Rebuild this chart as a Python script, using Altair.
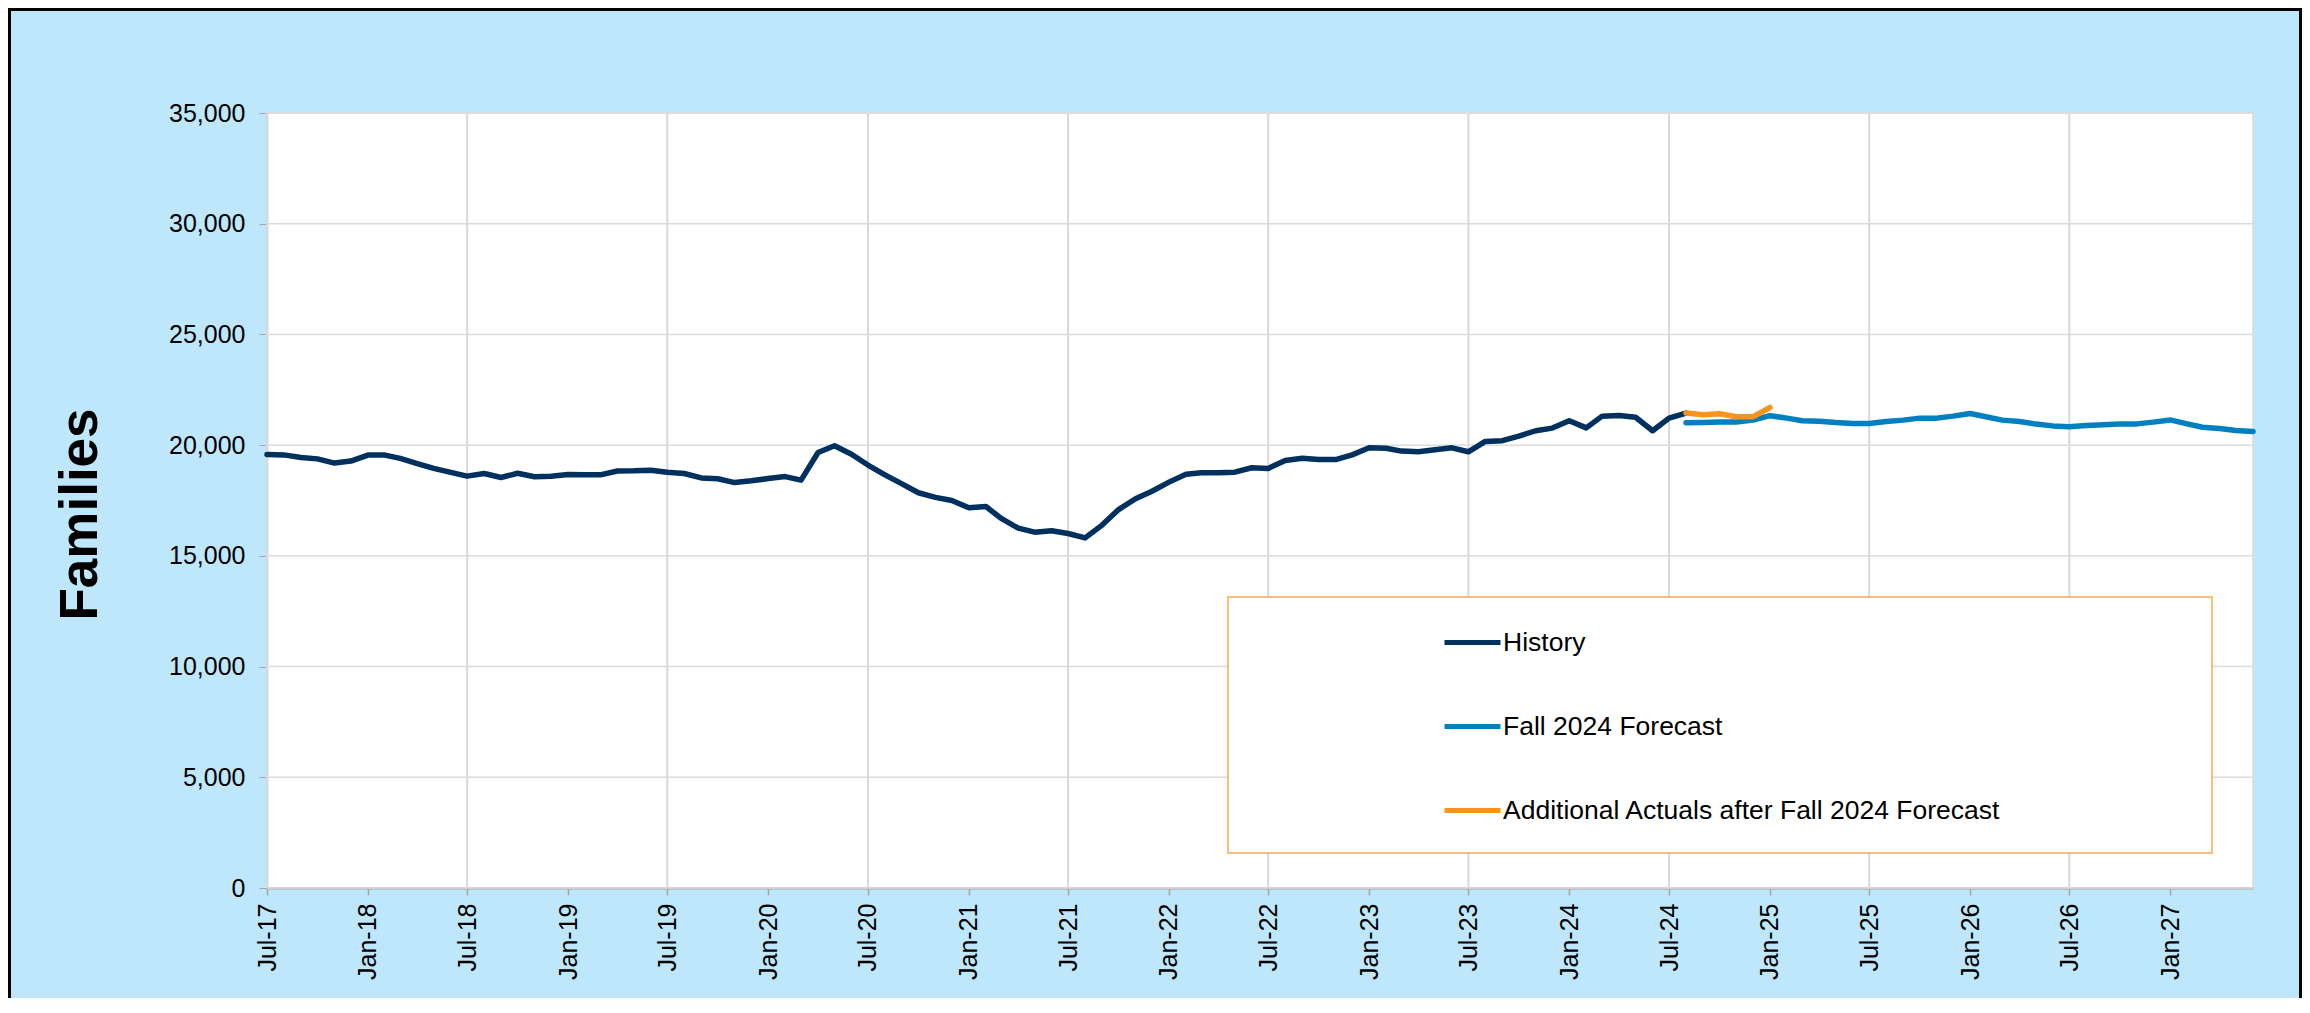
import altair as alt
import pandas as pd

# ---- data ----
history_start = "2017-07-01"
history = [19580, 19560, 19440, 19380, 19190, 19280, 19550, 19550, 19400, 19170,
           18950, 18770, 18600, 18720, 18540, 18730, 18570, 18600, 18670, 18660,
           18660, 18830, 18840, 18870, 18780, 18720, 18520, 18480, 18310, 18390,
           18490, 18580, 18420, 19670, 19970, 19590, 19100, 18660, 18250, 17850,
           17640, 17500, 17170, 17230, 16690, 16250, 16070, 16130, 16010, 15810,
           16390, 17090, 17580, 17920, 18330, 18690, 18750, 18750, 18780, 18980,
           18950, 19310, 19410, 19350, 19350, 19560, 19880, 19860, 19730, 19700,
           19790, 19880, 19700, 20170, 20200, 20410, 20650, 20770, 21100, 20780,
           21310, 21340, 21260, 20650, 21220, 21450]
forecast_start = "2024-08-01"
forecast = [21010, 21020, 21040, 21050, 21130, 21330, 21220, 21100, 21080, 21020,
            20980, 20980, 21070, 21130, 21220, 21220, 21310, 21430, 21270, 21130,
            21070, 20950, 20870, 20830, 20890, 20920, 20960, 20960, 21040, 21140,
            20960, 20810, 20750, 20660, 20620]
actuals_start = "2024-08-01"
actuals = [21450, 21370, 21420, 21280, 21280, 21700]

series_names = ["History", "Fall 2024 Forecast",
                "Additional Actuals after Fall 2024 Forecast"]
series_colors = ["#00305E", "#0080C0", "#F7941D"]

x_start = "2017-07-01"
x_end = "2027-06-01"
tick_start, tick_end = "2017-07-01", "2027-01-01"
y_ticks = [0, 5000, 10000, 15000, 20000, 25000, 30000, 35000]

FONT = "Liberation Sans"


def frame(start, values, name):
    return pd.DataFrame({
        "date": pd.date_range(start, periods=len(values), freq="MS").strftime("%Y-%m-%dT00:00:00Z"),
        "value": values,
        "series": name,
    })


df_hist = frame(history_start, history, series_names[0])
df_fc = frame(forecast_start, forecast, series_names[1])
df_act = frame(actuals_start, actuals, series_names[2])

tick_dates = pd.date_range(tick_start, tick_end, freq="6MS")
july_dates = [d for d in tick_dates if d.month == 7]


def dt(d):
    d = pd.Timestamp(d)
    return alt.DateTime(year=d.year, month=d.month, date=d.day, utc=True)


W, H = 1986, 775

x_scale = alt.Scale(type="utc", domain=[dt(x_start), dt(x_end)])
y_scale = alt.Scale(domain=[0, 35000], nice=False)

x_axis = alt.Axis(
    values=[dt(d) for d in tick_dates],
    labelExpr="utcFormat(datum.value, '%b-%y')",
    labelAngle=270, labelFontSize=25, labelFont=FONT, labelColor="black",
    labelPadding=8, tickSize=7, tickColor="#A6A6A6", domainColor="#A6A6A6",
    domainWidth=2, tickWidth=1.5, grid=False, title=None, labelOverlap=False,
    labelFlush=False,
)
y_axis = alt.Axis(
    values=y_ticks, format=",d", labelFontSize=25, labelFont=FONT,
    labelColor="black", labelPadding=14, tickSize=8, tickColor="#A6A6A6",
    domainColor="#A6A6A6", domainWidth=1.5, gridColor="#DCDCDC", gridWidth=1.5,
    title="Families", titleFontSize=53, titleFont=FONT, titleFontWeight="bold",
    titleColor="black", titleAngle=270, titleX=-171, titleY=401,
    titleBaseline="alphabetic", titleAlign="center",
)

color = alt.Color(
    "series:N",
    scale=alt.Scale(domain=series_names, range=series_colors),
    legend=alt.Legend(
        title=None, orient="none", legendX=1175, legendY=499,
        direction="vertical", symbolType="stroke", symbolSize=3136,
        symbolStrokeWidth=5, labelFontSize=26.5, labelFont=FONT,
        labelColor="black", rowPadding=40, labelOffset=0, padding=0,
        labelLimit=1000,
    ),
)

grid_df = pd.DataFrame({"date": [d.strftime("%Y-%m-%dT00:00:00Z") for d in july_dates]})
vgrid = alt.Chart(grid_df).mark_rule(color="#D9D9D9", strokeWidth=2).encode(
    x=alt.X("date:T", scale=x_scale, axis=x_axis)
)

hgrid = alt.Chart(pd.DataFrame({"v": y_ticks})).mark_rule(color="#DCDCDC", strokeWidth=1.5).encode(
    y=alt.Y("v:Q", scale=y_scale, axis=y_axis)
)

one = pd.DataFrame({"k": [0]})
legend_box = alt.Chart(one).mark_rect(
    fill="white", stroke="#F7A850", strokeWidth=1.5
).encode(
    x=alt.value(961), x2=alt.value(1945), y=alt.value(484), y2=alt.value(740)
)

outer_border = alt.Chart(one).mark_rect(
    fill=None, fillOpacity=0, stroke="black", strokeWidth=3
).encode(
    x=alt.value(-257.5), x2=alt.value(W + 49 - 1.5),
    y=alt.value(-103.5), y2=alt.value(H + 140)
)


def line(df):
    return alt.Chart(df).mark_line(strokeWidth=5.5, strokeCap="round", strokeJoin="round").encode(
        x=alt.X("date:T", scale=x_scale, axis=x_axis),
        y=alt.Y("value:Q", scale=y_scale, axis=y_axis),
        color=color,
    )


chart = alt.layer(
    vgrid, hgrid, legend_box, line(df_hist), line(df_fc), line(df_act), outer_border
).properties(
    width=W, height=H,
    autosize=alt.AutoSizeParams(type="none"),
    padding={"left": 259, "top": 105, "right": 49, "bottom": 110},
    background="#BFE7FC",
).configure_view(
    fill="white", stroke="#D9D9D9", strokeWidth=1.5
).configure_axis(
    grid=False
)

chart.save("out.html", embed_options={"renderer": "svg", "actions": False})
